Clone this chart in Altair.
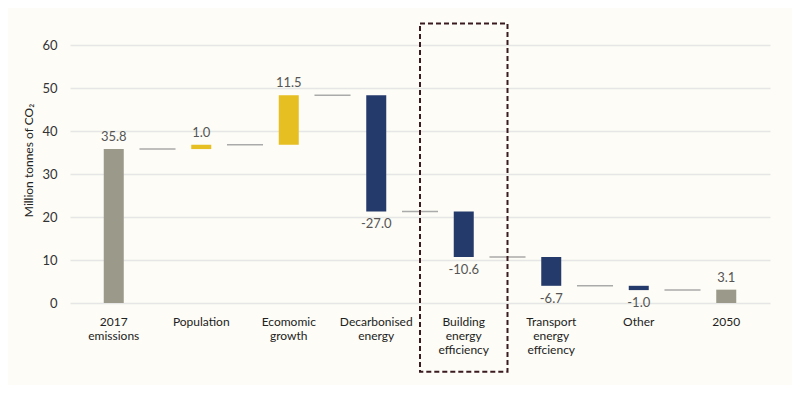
import altair as alt
import pandas as pd

categories = ["2017 emissions", "Population", "Ecomomic growth", "Decarbonised energy",
              "Building energy efficiency", "Transport energy effciency", "Other", "2050"]
labels = [["2017", "emissions"], ["Population"], ["Ecomomic", "growth"],
          ["Decarbonised", "energy"], ["Building", "energy", "efficiency"],
          ["Transport", "energy", "effciency"], ["Other"], ["2050"]]
changes = [35.8, 1.0, 11.5, -27.0, -10.6, -6.7, -1.0, 3.1]
kinds = ["total", "up", "up", "down", "down", "down", "down", "total"]
highlight = "Building energy efficiency"

# waterfall table
starts, ends = [], []
level = 0.0
for c, k in zip(changes, kinds):
    if k == "total":
        starts.append(0.0)
        ends.append(c)
        level = c
    else:
        starts.append(level)
        level = level + c
        ends.append(level)

df = pd.DataFrame({
    "cat": categories,
    "start": starts,
    "end": ends,
    "kind": kinds,
    "text": [f"{c:.1f}" for c in changes],
    "pos": [c >= 0 for c in changes],
})

conn = pd.DataFrame({
    "cat": categories[:-1],
    "next": categories[1:],
    "level": ends[:-1],
})

label_map = {c: l for c, l in zip(categories, labels)}
label_expr = "{" + ",".join(
    f"'{c}': [" + ",".join(f"'{s}'" for s in l) + "]" for c, l in label_map.items()
) + "}[datum.label]"

FONT = "Lato"
xscale = alt.Scale(domain=categories, paddingInner=0, paddingOuter=0)
yscale = alt.Scale(domain=[0, 60], nice=False)

x_enc = alt.X("cat:N", scale=xscale, sort=categories, title=None,
              axis=alt.Axis(labelExpr=label_expr, labelAngle=0, labelPadding=13,
                            labelLineHeight=14, labelFontSize=12, labelColor="#222222",
                            labelFont=FONT, ticks=False, domain=False, grid=False,
                            labelBaseline="top"))

bars = alt.Chart(df).mark_bar(size=20).encode(
    x=x_enc,
    y=alt.Y("start:Q", scale=yscale,
            title="Million tonnes of CO₂",
            axis=alt.Axis(values=[0, 10, 20, 30, 40, 50, 60], labelPadding=13,
                          labelFontSize=13, labelColor="#333333", labelFont=FONT,
                          ticks=False, domain=False, gridColor="#e6e6e6",
                          gridWidth=1.5, titleFont=FONT, titleFontSize=12,
                          titleFontWeight="normal", titleColor="#222222",
                          titleX=-42, titleY=115, titleBaseline="middle")),
    y2="end:Q",
    color=alt.Color("kind:N", legend=None,
                    scale=alt.Scale(domain=["total", "up", "down"],
                                    range=["#9a998a", "#e6bf22", "#243a6b"])),
)

connectors = alt.Chart(conn).mark_rule(color="#aaaaaa", strokeWidth=1.5).encode(
    x=alt.X("cat:N", scale=xscale, sort=categories, bandPosition=0.794),
    x2=alt.X2("next:N", bandPosition=0.206),
    y=alt.Y("level:Q", scale=yscale),
)

text_up = alt.Chart(df).transform_filter("datum.pos").mark_text(
    baseline="bottom", dy=-5, fontSize=13, color="#555555", font=FONT
).encode(x=alt.X("cat:N", scale=xscale, sort=categories),
         y=alt.Y("end:Q", scale=yscale), text="text:N")

text_down = alt.Chart(df).transform_filter("!datum.pos").mark_text(
    baseline="top", dy=7, fontSize=13, color="#555555", font=FONT
).encode(x=alt.X("cat:N", scale=xscale, sort=categories),
         y=alt.Y("end:Q", scale=yscale), text="text:N")

box_df = pd.DataFrame({"cat": [highlight], "top": [65.0], "bottom": [-16.0]})
box = alt.Chart(box_df).mark_rect(
    fill=None, fillOpacity=0, stroke="#3b1a1f", strokeWidth=2, strokeDash=[5, 3]
).encode(
    x=alt.X("cat:N", scale=xscale, sort=categories),
    y=alt.Y("top:Q", scale=yscale),
    y2="bottom:Q",
)

chart = alt.layer(bars, connectors, text_up, text_down, box).properties(
    width=700, height=258,
    autosize=alt.AutoSizeParams(type="none"),
    padding={"left": 62, "top": 37, "right": 22, "bottom": 82},
    background="#fdfcf6",
).configure_view(stroke=None)

chart.save("out.html", embed_options={"renderer": "svg", "actions": False})
